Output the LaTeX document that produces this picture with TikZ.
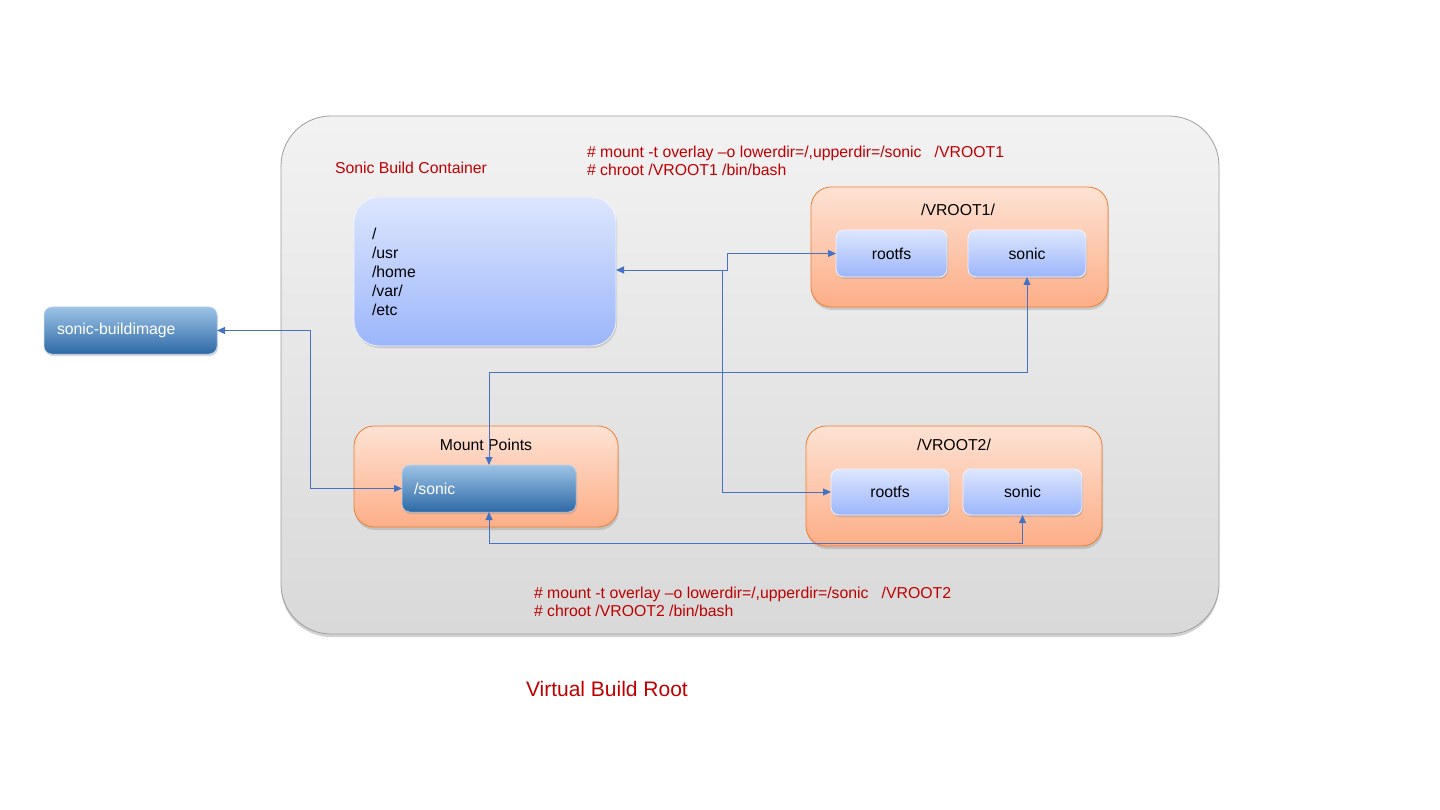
\documentclass[tikz,border=0pt]{standalone}
\usepackage{fontspec}
\setmainfont{Liberation Sans}
\usetikzlibrary{shadows,arrows.meta}
\definecolor{cred}{HTML}{C00000}
\definecolor{cline}{HTML}{4472C4}
\definecolor{ogtop}{HTML}{FDE2D4}
\definecolor{ogbot}{HTML}{FDAE87}
\definecolor{ogedge}{HTML}{ED7D31}
\definecolor{lbtop}{HTML}{DDE6FD}
\definecolor{lbbot}{HTML}{9CB6FB}
\definecolor{dbtop}{HTML}{9DC3E6}
\definecolor{dbbot}{HTML}{2D69A6}
\tikzset{
  every node/.style={font=\fontsize{15.8}{18}\selectfont, inner sep=0pt, outer sep=0pt},
  container/.style={rounded corners=50pt, shade, top color=black!5, bottom color=black!15,
    draw=black!38, line width=0.8pt, drop shadow={shadow xshift=0pt, shadow yshift=-3pt, opacity=0.35}},
  lightbox/.style={rounded corners=8pt, shade, top color=lbtop, bottom color=lbbot,
    draw=white!85!lbbot, line width=0.8pt, drop shadow={shadow xshift=1pt, shadow yshift=-2pt, opacity=0.3}},
  orangebox/.style={rounded corners=20pt, shade, top color=ogtop, bottom color=ogbot,
    draw=ogedge, line width=0.8pt, drop shadow={shadow xshift=1pt, shadow yshift=-3pt, opacity=0.3}},
  darkbox/.style={rounded corners=8pt, shade, top color=dbtop, bottom color=dbbot,
    draw=dbtop!70!white, line width=0.5pt, text=white, drop shadow={shadow xshift=1pt, shadow yshift=-2pt, opacity=0.3}},
  redtext/.style={text=cred, align=left, anchor=west},
  conn/.style={draw=cline, line width=0.9pt},
  tip/.style={-{Triangle[length=8pt,width=7pt]}},
  tips/.style={{Triangle[length=8pt,width=7pt]}-{Triangle[length=8pt,width=7pt]}},
}
\begin{document}
\begin{tikzpicture}[x=1pt,y=-1pt]
\useasboundingbox[fill=white] (0,0) rectangle (1440,810);

% outer container
\node[container, minimum width=938pt, minimum height=518pt] (outer) at (750,375) {};
\node[redtext] (title) at (335,168) {Sonic Build Container};
\node[redtext, font=\fontsize{15.8}{18.5}\selectfont] (cmd1) at (587,161)
  {\# mount -t overlay –o lowerdir=/,upperdir=/sonic \ \ /VROOT1\\\# chroot /VROOT1 /bin/bash};
\node[redtext, font=\fontsize{15.8}{18.5}\selectfont] (cmd2) at (534,602)
  {\# mount -t overlay –o lowerdir=/,upperdir=/sonic \ \ /VROOT2\\\# chroot /VROOT2 /bin/bash};
\node[redtext, font=\fontsize{21}{24}\selectfont] (vbr) at (526,689) {Virtual Build Root};

% folder box
\node[lightbox, rounded corners=25pt, minimum width=262pt, minimum height=149pt,
  text width=226pt, align=left, font=\fontsize{15.8}{19}\selectfont] (folder) at (485,271.5)
  {/\\/usr\\/home\\/var/\\/etc};

% VROOT1
\node[orangebox, minimum width=297pt, minimum height=120pt] (v1) at (959.5,247) {};
\node (v1t) at (958,210) {/VROOT1/};
\node[lightbox, minimum width=111pt, minimum height=47pt] (rootfs1) at (891.5,253.5) {rootfs};
\node[lightbox, minimum width=118pt, minimum height=47pt] (sonic1) at (1027,253.5) {sonic};

% Mount points
\node[orangebox, minimum width=264pt, minimum height=101pt] (mp) at (486,476.5) {};
\node (mpt) at (486,445) {Mount Points};
\node[darkbox, minimum width=174pt, minimum height=47pt, text width=150pt, align=left] (msonic) at (489,488.5) {/sonic};

% VROOT2
\node[orangebox, minimum width=296pt, minimum height=120pt] (v2) at (954,486) {};
\node (v2t) at (954,445) {/VROOT2/};
\node[lightbox, minimum width=118pt, minimum height=46pt] (rootfs2) at (890,492) {rootfs};
\node[lightbox, minimum width=119pt, minimum height=46pt] (sonic2) at (1022.5,492) {sonic};

% sonic-buildimage
\node[darkbox, minimum width=173pt, minimum height=47pt, text width=147pt, align=left] (bi) at (130.5,330.5) {sonic-buildimage};

% connectors
\coordinate (j1) at (727,270);
\coordinate (j2) at (722,270);
\coordinate (b1) at (310,330.5);
\draw[conn, tips] (folder.east |- j1) -- (j1) |- (rootfs1.west);
\draw[conn, tip] (j2) |- (rootfs2.west);
\draw[conn, tips] (bi.east) -- (b1) |- (msonic.west);
\draw[conn, tips] (msonic.north) -- ++(0,-93) -| (sonic1.south);
\draw[conn, tips] (msonic.south) -- ++(0,31) -| (sonic2.south);
\end{tikzpicture}
\end{document}
